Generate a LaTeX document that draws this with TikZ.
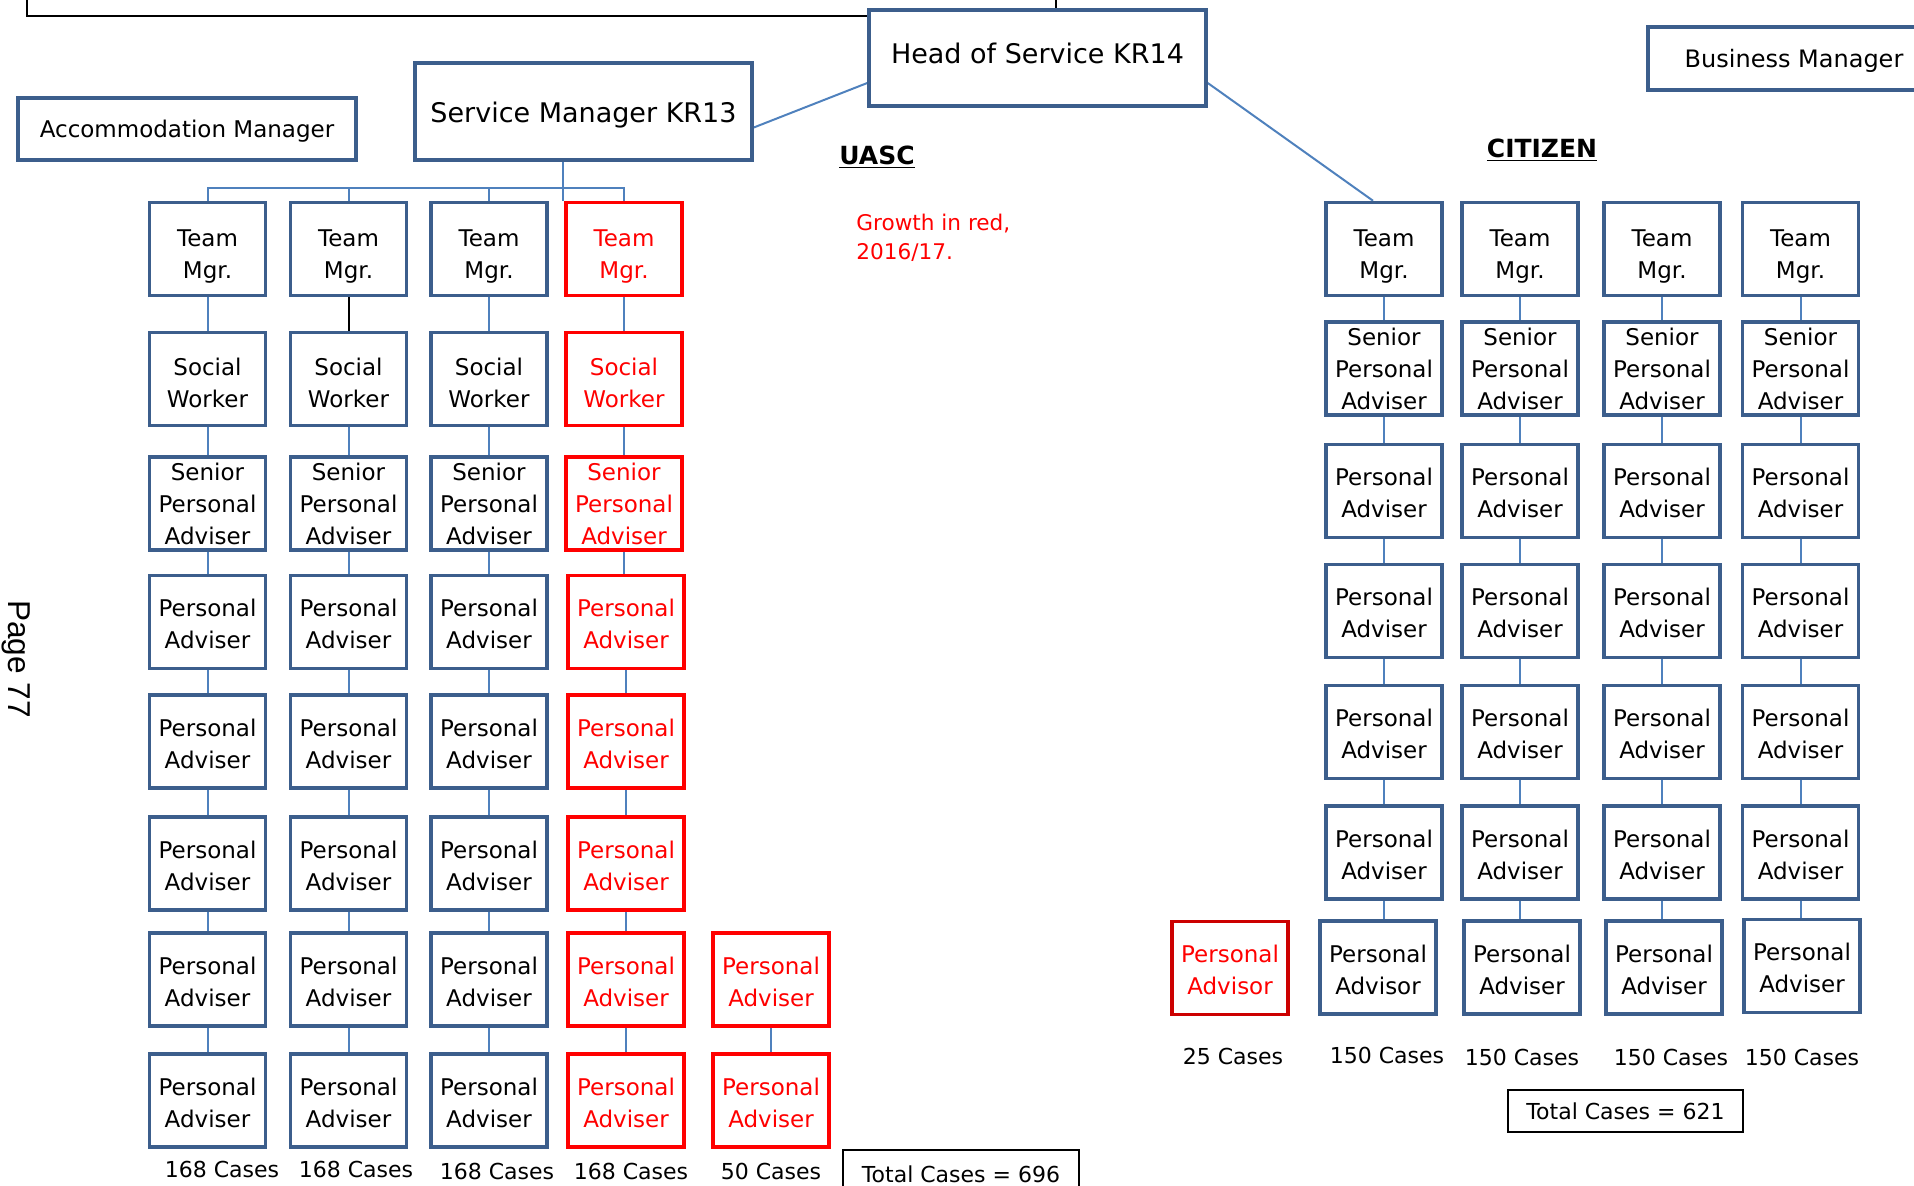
\documentclass[tikz,border=0pt]{standalone}
\usepackage{fontspec}
\setmainfont{DejaVu Sans}
\newfontfamily\pagefont{Liberation Sans}
\definecolor{boxblue}{RGB}{60,94,140}
\definecolor{linkblue}{RGB}{79,129,189}
\definecolor{darkred}{RGB}{204,0,0}
\pgfdeclarelayer{bg}
\pgfsetlayers{bg,main}
\newcommand\Tup[1]{\rule{0pt}{#1}}
\begin{document}
\begin{tikzpicture}[x=0.5pt,y=-0.5pt,
  box/.style={draw=boxblue, line width=1.75pt, minimum width=58pt, minimum height=46.5pt, inner sep=0pt, align=center, font=\fontsize{11.5}{16}\selectfont, fill=white},
  redbox/.style={box, draw=red, text=red},
  big/.style={draw=boxblue, line width=1.75pt, inner sep=0pt, align=center, fill=white},
  link/.style={draw=linkblue, line width=1pt},
  cases/.style={font=\fontsize{11}{13}\selectfont, inner sep=0pt},
  total/.style={draw=black, line width=0.9pt, inner sep=0pt, font=\fontsize{11}{13}\selectfont}]
\useasboundingbox (0,0) rectangle (1914,1185);
\clip (0,0) rectangle (1914,1185);

% top partial box
\node[draw=black, line width=1pt, minimum width=514.5pt, minimum height=25pt, inner sep=0pt] (topbox) at (541.5,-9) {};

% managers
\node[big, minimum width=168.5pt, minimum height=48pt] (head) at (1037.5,58) {};
\node[font=\fontsize{13.5}{16}\selectfont] (headtxt) at (1037.5,53) {Head of Service KR14};
\node[big, minimum width=168.5pt, minimum height=48.5pt] (sm) at (583.5,111.5) {};
\node[font=\fontsize{13.5}{16}\selectfont] (smtxt) at (583.5,115) {Service Manager KR13};
\node[big, minimum width=169pt, minimum height=31pt] (acc) at (187,129) {};
\node[font=\fontsize{11.5}{14}\selectfont] (acctxt) at (187,131) {Accommodation Manager};
\node[big, minimum width=146pt, minimum height=31.5pt] (bm) at (1794,58.5) {};
\node[font=\fontsize{12}{14}\selectfont] (bmtxt) at (1794,61) {Business Manager};

% section titles
\node[font=\bfseries\fontsize{12.5}{15}\selectfont] (uasc) at (877,157) {\underline{UASC}};
\node[font=\bfseries\fontsize{12.5}{15}\selectfont] (citizen) at (1542,150) {\underline{CITIZEN}};
\node[anchor=north west, text=red, align=left, inner sep=0pt, font=\fontsize{10.8}{14.5}\selectfont] (growth) at (856,214) {Growth in red,\\2016/17.};
\node[rotate=-90, font=\pagefont\fontsize{15.8}{18}\selectfont] (page) at (16,659) {Page 77};

% UASC columns
\foreach \c/\x in {1/207.5,2/348.5,3/489} {
  \node[box] (u\c1) at (\x,249) {\Tup{15.4pt}Team\\Mgr.};
  \node[box] (u\c2) at (\x,379) {\Tup{12.3pt}Social\\Worker};
  \node[box] (u\c3) at (\x,503.5) {Senior\\Personal\\Adviser};
  \foreach \r/\y in {4/622,5/741.5,6/863.5,7/979.5,8/1100.5}
    \node[box] (u\c\r) at (\x,\y) {\Tup{11.1pt}Personal\\Adviser};
}
\node[redbox] (u41) at (624,249) {\Tup{15.4pt}Team\\Mgr.};
\node[redbox] (u42) at (624,379) {\Tup{12.3pt}Social\\Worker};
\node[redbox] (u43) at (624,503.5) {Senior\\Personal\\Adviser};
\foreach \r/\y in {4/622,5/741.5,6/863.5,7/979.5,8/1100.5}
  \node[redbox] (u4\r) at (626,\y) {\Tup{11.1pt}Personal\\Adviser};
\node[redbox] (u57) at (771,979.5) {\Tup{11.1pt}Personal\\Adviser};
\node[redbox] (u58) at (771,1100.5) {\Tup{11.1pt}Personal\\Adviser};

% CITIZEN columns
\foreach \c/\x in {A/1384,B/1520,C/1662,D/1800.5} {
  \node[box] (c\c1) at (\x,249) {\Tup{15.4pt}Team\\Mgr.};
  \node[box] (c\c2) at (\x,368.6) {Senior\\Personal\\Adviser};
  \foreach \r/\y in {3/491,4/611,5/732,6/852.6}
    \node[box] (c\c\r) at (\x,\y) {\Tup{11.1pt}Personal\\Adviser};
}
\node[box] (cA7) at (1378,967.4) {\Tup{11.1pt}Personal\\Advisor};
\node[box] (cB7) at (1522,967.4) {\Tup{11.1pt}Personal\\Adviser};
\node[box] (cC7) at (1664,967.4) {\Tup{11.1pt}Personal\\Adviser};
\node[box] (cD7) at (1802,966) {\Tup{11.1pt}Personal\\Adviser};
\node[redbox, draw=darkred] (cR) at (1230,968) {\Tup{11.1pt}Personal\\Advisor};

\begin{pgfonlayer}{bg}
\foreach \c in {1,2,3,4} {
  \foreach \r/\n in {1/2,2/3,3/4,4/5,5/6,6/7,7/8}
    \draw[link] (u\c\r.south) -- (u\c\r.south |- u\c\n.north);
}
\draw[link] (u57.south) -- (u57.south |- u58.north);
\foreach \c in {A,B,C,D} {
  \foreach \r/\n in {1/2,2/3,3/4,4/5,5/6,6/7}
    \draw[link] (c\c\r.south) -- (c\c\r.south |- c\c\n.north);
}
% bus from service manager
\coordinate (busL) at (207.5,188);
\draw[link] (u11.north) -- (u11.north |- busL) -| (u41.north);
\draw[link] (u21.north) -- (u21.north |- busL);
\draw[link] (u31.north) -- (u31.north |- busL);
\draw[link] ([xshift=-10.25pt]sm.south) -- ([xshift=-10.25pt]sm.south |- u41.north);
% manager links
\draw[link] ([yshift=-8pt]sm.east) -- ([yshift=-12.5pt]head.west);
\draw[link] ([yshift=-12.5pt]head.east) -- ([xshift=-5.5pt]cA1.north);
\end{pgfonlayer}
\draw[black, line width=1pt] (u21.south) -- (u22.north);

% case counts
\node[cases] (k1) at (222,1169) {168 Cases};
\node[cases] (k2) at (356,1169) {168 Cases};
\node[cases] (k3) at (497,1171) {168 Cases};
\node[cases] (k4) at (631,1171) {168 Cases};
\node[cases] (k5) at (771,1171) {50 Cases};
\node[total, minimum width=118pt, minimum height=24pt] (tot1) at (961,1174) {Total Cases = 696};

\node[cases] (kR) at (1233,1056) {25 Cases};
\node[cases] (kA) at (1387,1055) {150 Cases};
\node[cases] (kB) at (1522,1057) {150 Cases};
\node[cases] (kC) at (1671,1057) {150 Cases};
\node[cases] (kD) at (1802,1057) {150 Cases};
\node[total, minimum width=117.5pt, minimum height=21pt] (tot2) at (1625.5,1111) {Total Cases = 621};
\end{tikzpicture}
\end{document}
